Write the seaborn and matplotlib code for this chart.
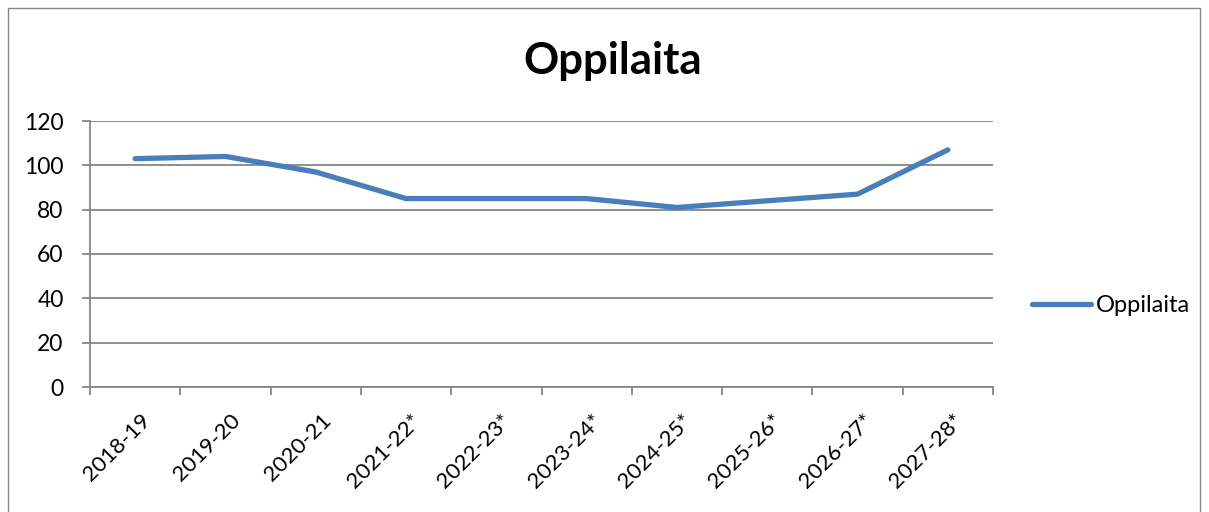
import pandas as pd
import seaborn as sns
import matplotlib.pyplot as plt
import matplotlib.transforms as mtransforms
from matplotlib.patches import Rectangle

# data
years = ["2018-19", "2019-20", "2020-21", "2021-22*", "2022-23*", "2023-24*",
         "2024-25*", "2025-26*", "2026-27*", "2027-28*"]
students = [103, 104, 97, 85, 85, 85, 81, 84, 87, 107]
df = pd.DataFrame({"Vuosi": years, "Oppilaita": students})

sns.set_theme(style="white")
plt.rcParams['font.family'] = ['Lato', 'DejaVu Sans']
plt.rcParams['text.color'] = 'black'

BLUE = "#4A7EBB"
GRAY = "#868686"
TICKSIZE = 16

fig = plt.figure(figsize=(12.09, 5.12), dpi=100)
ax = fig.add_axes([90/1209, 1 - 387/512, (993 - 90)/1209, (387 - 121)/512])

sns.lineplot(data=df, x="Vuosi", y="Oppilaita", ax=ax, color=BLUE, linewidth=3.8,
             solid_capstyle="round", solid_joinstyle="round", label="Oppilaita", legend=False)

ax.set_xlim(-0.5, len(years) - 0.5)
ax.set_ylim(0, 120)
ax.set_yticks(range(0, 121, 20))
ax.yaxis.grid(True, color=GRAY, linewidth=1.3)
ax.set_axisbelow(True)

# category ticks between labels, like the spreadsheet
ax.set_xticks(range(len(years)))
ax.set_xticklabels(years, rotation=45, ha="right", rotation_mode="anchor", fontsize=TICKSIZE)
ax.set_xticks([i - 0.5 for i in range(len(years) + 1)], minor=True)
ax.tick_params(axis="x", which="major", length=0, pad=17, labelcolor="black")
ax.tick_params(axis="x", which="minor", length=6, width=1.3, color=GRAY, direction="out", bottom=True)
ax.tick_params(axis="y", length=6, width=1.3, color=GRAY, direction="out", left=True,
               labelsize=TICKSIZE + 0.5, pad=13, labelcolor="black")

# nudge x labels a little to the right
shift = mtransforms.ScaledTranslation(5/100, 0, fig.dpi_scale_trans)
for lab in ax.get_xticklabels():
    lab.set_transform(lab.get_transform() + shift)

for side in ["top", "right"]:
    ax.spines[side].set_visible(False)
for side in ["left", "bottom"]:
    ax.spines[side].set_color(GRAY)
    ax.spines[side].set_linewidth(1.3)

ax.set_xlabel("")
ax.set_ylabel("")

fig.text(613/1209, 1 - 61/512, "Oppilaita", ha="center", va="center",
         fontsize=31.5, fontweight="bold", color="black")

handles, labels = ax.get_legend_handles_labels()
fig.legend(handles, labels, loc="center left", bbox_to_anchor=(1011/1209, 1 - 306/512),
           frameon=False, fontsize=17, handlelength=2.5, handletextpad=0.2)

# chart border
fig.patches.append(Rectangle((8/1209, -0.1), (1200 - 8)/1209, 1.1 - 8/512,
                             transform=fig.transFigure, fill=False,
                             edgecolor=GRAY, linewidth=1.0))

fig.savefig("out.png", dpi=100)
